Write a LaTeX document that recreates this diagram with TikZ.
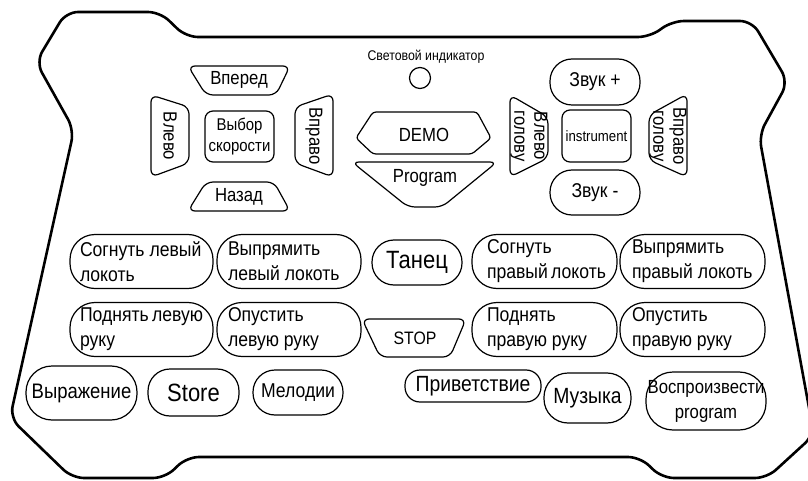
\documentclass[tikz,border=0pt]{standalone}
\usepackage{fontspec}
\setmainfont{Liberation Sans}[FakeStretch=0.88]
\usetikzlibrary{positioning}

\begin{document}
\begin{tikzpicture}[
    x=1pt, y=-1pt,
    shell/.style={draw, line width=2.6pt, rounded corners=12pt},
    key/.style={draw, line width=1.2pt, rounded corners=7pt},
    fs/.style 2 args={font=\fontsize{#1}{#2}\selectfont, align=center},
    btn/.style={draw, line width=1.2pt, inner sep=0pt, align=center},
    pill/.style={btn, rounded corners=#1},
    pill/.default=22pt,
    arm/.style 2 args={pill=25pt, minimum height=54pt, fs={20}{25}, align=flush left, inner xsep=#2, text width=#1}
]
\useasboundingbox (0,0) rectangle (808,481);

\draw[shell] (110,12) -- (66,12) -- (36,62) -- (74,130) -- (10,418) -- (72,478) -- (165,478) -- (187,457) -- (640,457) -- (662,478) -- (767,478) -- (814,435) -- (759,135) -- (788,82) -- (752,21) -- (672,21) -- (650,37) -- (186,37) -- (160,12) -- cycle;

\draw[key] (188,66) -- (290,66) -- (276,95) -- (206,95) -- cycle;
\node[fs={19}{20}] (vpered) at (239,80) {Вперед};
\draw[key] (206,182) -- (274,182) -- (290,211) -- (188,211) -- cycle;
\node[fs={19}{20}] (nazad) at (239,197) {Назад};
\draw[key] (151,95) -- (189,107) -- (189,163) -- (151,177) -- cycle;
\node[fs={19}{20}, rotate=-90] (vlevo) at (170,136) {Влево};
\draw[key] (333,94) -- (295,107) -- (295,163) -- (333,177) -- cycle;
\node[fs={19}{20}, rotate=-90] (vpravo) at (314,136) {Вправо};
\node[btn, rounded corners=8pt, minimum width=69pt, minimum height=51pt, fs={17}{21}] (speed) at (239.5,136.5) {Выбор\\скорости};

\node[fs={14}{16}] (lamptxt) at (426,57) {Световой индикатор};
\node[draw, circle, line width=1.2pt, minimum size=21pt, inner sep=0pt] (lamp) at (420,78) {};

\draw[key, rounded corners=3pt] (373,112) -- (477,112) -- (491,138) -- (472,154) -- (373,154) -- (356,138) -- cycle;
\node[fs={19}{20}] (demo) at (424,135) {DEMO};
\draw[key] (352,162) -- (497,162) -- (442,207) -- (408,207) -- cycle;
\node[fs={19}{20}] (program) at (425,178) {Program};

\draw[key] (510,95) -- (548,117) -- (548,158) -- (510,177) -- cycle;
\node[fs={19}{20}, rotate=-90] (headleft) at (529,136) {Влево\\голову};
\draw[key] (687,94) -- (649,115) -- (649,160) -- (687,177) -- cycle;
\node[fs={19}{20}, rotate=-90] (headright) at (668,136) {Вправо\\голову};
\node[pill, minimum width=90pt, minimum height=46pt, fs={20}{24}] (volup) at (595,82) {Звук +};
\node[btn, rounded corners=8pt, minimum width=69pt, minimum height=52pt, fs={15}{18}] (instrument) at (596.5,136) {instrument};
\node[pill, minimum width=90pt, minimum height=45pt, fs={20}{24}] (voldown) at (595,192.5) {Звук -};

\node[arm={123pt}{10pt}] (bendleft) at (141.5,261.5) {Согнуть~левый\\локоть};
\node[arm={122pt}{11pt}] (straightleft) at (289,261.5) {Выпрямить\\левый~локоть};
\node[pill, minimum width=90pt, minimum height=45pt, fs={25}{28}] (dance) at (417,262.5) {Танец};
\node[arm={115pt}{15pt}] (bendright) at (544.5,261.5) {Согнуть\\правый~локоть};
\node[arm={121pt}{12pt}] (straightright) at (692.5,261.5) {Выпрямить\\правый~локоть};

\node[arm={123pt}{10pt}] (raiseleft) at (141.5,329.5) {Поднять~левую\\руку};
\node[arm={122pt}{11pt}] (lowerleft) at (289,329.5) {Опустить\\левую~руку};
\draw[key] (362,319) -- (466,319) -- (450,357) -- (380,357) -- cycle;
\node[fs={18}{20}] (stop) at (415,338) {STOP};
\node[arm={115pt}{15pt}] (raiseright) at (544.5,329.5) {Поднять\\правую~руку};
\node[arm={121pt}{12pt}] (lowerright) at (692.5,329.5) {Опустить\\правую~руку};

\node[pill=26pt, minimum width=111pt, minimum height=54pt, fs={21}{24}] (expression) at (81.5,393) {Выражение};
\node[pill, minimum width=91pt, minimum height=47pt, fs={25}{28}] (store) at (193.5,392.5) {Store};
\node[pill, minimum width=90pt, minimum height=45pt, fs={20}{24}] (melody) at (298,392.5) {Мелодии};
\node[pill=15pt, minimum width=136pt, minimum height=32pt, fs={22}{24}] (greeting) at (473,386) {Приветствие};
\node[pill=24pt, minimum width=87pt, minimum height=50pt, fs={22}{24}] (music) at (587.5,398) {Музыка};
\node[pill=27pt, minimum width=120pt, minimum height=58pt, fs={19}{25}] (replay) at (706,401) {Воспроизвести\\program};

\end{tikzpicture}
\end{document}
